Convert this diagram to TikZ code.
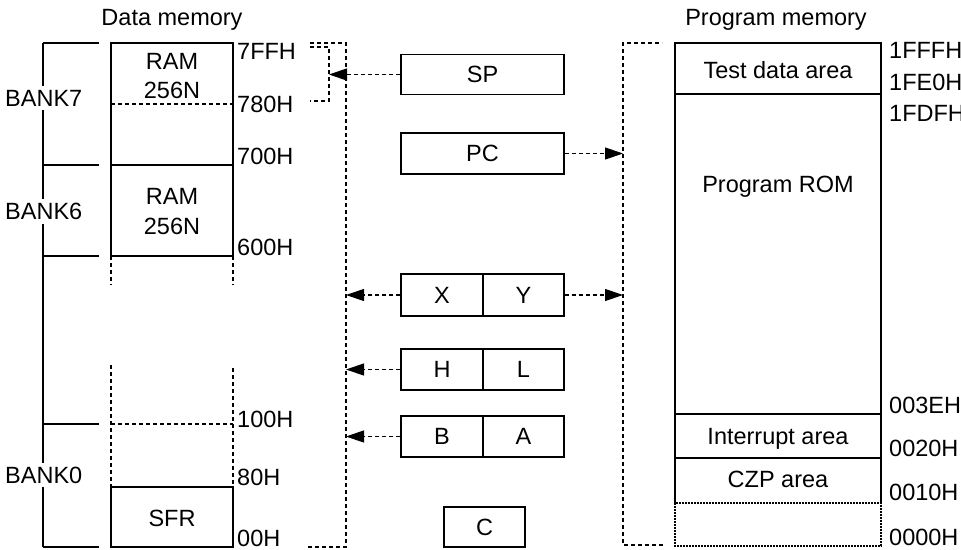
\documentclass[tikz,border=0pt]{standalone}
\usepackage{fontspec}
\setmainfont{Liberation Sans}
\usetikzlibrary{arrows.meta}
\begin{document}
\begin{tikzpicture}[x=1pt,y=-1pt,
  every node/.style={font=\fontsize{23.5}{27}\selectfont, inner sep=0pt},
  solidln/.style={line width=1.2pt},
  dashln/.style={line width=1.2pt, dash pattern=on 4pt off 3pt},
  finedash/.style={line width=1.2pt, dash pattern=on 2pt off 1pt},
  regbox/.style={draw, line width=1.2pt, minimum height=41pt, minimum width=81.5pt},
  arr/.style={dashln, -{Triangle[length=18pt,width=12pt]}},
  lbl/.style={anchor=base west},
  ctr/.style={anchor=base},
  banklbl/.style={anchor=base west, fill=white, inner ysep=4pt},
]
\useasboundingbox (0,0) rectangle (961,549);

% titles
\node[ctr] (dmtitle) at (172,25) {Data memory};
\node[ctr] (pmtitle) at (776,25) {Program memory};

% bank bracket
\draw[solidln] (43,43) -- (43,547);
\foreach \yy in {43,165,256,424,547} \draw[solidln] (43,\yy) -- (99,\yy);
\node[banklbl] (bank7) at (5,106) {BANK7};
\node[banklbl] (bank6) at (5,219.5) {BANK6};
\node[banklbl] (bank0) at (5,483) {BANK0};

% data memory column
\draw[solidln] (111,43) rectangle (233,165);
\draw[solidln] (111,165) rectangle (233,256);
\draw[dashln] (111,104) -- (233,104);
\draw[dashln] (111,256) -- (111,285);
\draw[dashln] (233,256) -- (233,285);
\draw[dashln] (111,365) -- (111,487);
\draw[dashln] (233,368) -- (233,487);
\draw[dashln] (111,424) -- (233,424);
\draw[solidln] (111,487) rectangle (233,547);
\node[ctr] (ram7a) at (172,69) {RAM};
\node[ctr] (ram7b) at (172,98) {256N};
\node[ctr] (ram6a) at (172,204) {RAM};
\node[ctr] (ram6b) at (172,234) {256N};
\node[ctr] (sfr) at (172,526) {SFR};

% data addresses
\node[lbl] (a7ff) at (237,59) {7FFH};
\node[lbl] (a780) at (237,112) {780H};
\node[lbl] (a700) at (237,164) {700H};
\node[lbl] (a600) at (237,255) {600H};
\node[lbl] (a100) at (237,427) {100H};
\node[lbl] (a80) at (237,485) {80H};
\node[lbl] (a00) at (237,546) {00H};

% brackets
\draw[dashln] (308,547) -- (346,547) -- (346,43) -- (310,43);
\draw[dashln] (310,47) -- (329,47) -- (329,101) -- (310,101);
\draw[dashln] (663,545) -- (623,545) -- (623,43) -- (662,43);
\coordinate (dmbus) at (346,300);
\coordinate (pmbus) at (623,300);
\coordinate (spbr) at (329,75);

% registers
\node[regbox, minimum width=163pt, minimum height=40pt] (sp) at (482.5,74.5) {SP};
\node[regbox, minimum width=163pt] (pc) at (482.5,153.5) {PC};
\node[regbox, minimum width=82pt, minimum height=42pt] (rx) at (442,295) {X};
\node[regbox, minimum width=81pt, minimum height=42pt] (ry) at (523.5,295) {Y};
\node[regbox, minimum width=82pt] (rh) at (442,369.5) {H};
\node[regbox, minimum width=81pt] (rl) at (523.5,369.5) {L};
\node[regbox, minimum width=82pt] (rb) at (442,436.5) {B};
\node[regbox, minimum width=81pt] (ra) at (523.5,436.5) {A};
\node[regbox, minimum width=81pt, minimum height=40pt] (rc) at (484.5,527) {C};

% arrows
\draw[arr] (sp.west) -- (sp.west -| spbr);
\draw[arr] (pc.east) -- (pc.east -| pmbus);
\draw[arr] (rx.west) -- (rx.west -| dmbus);
\draw[arr] (ry.east) -- (ry.east -| pmbus);
\draw[arr] (rh.west) -- (rh.west -| dmbus);
\draw[arr] (rb.west) -- (rb.west -| dmbus);

% program memory
\draw[solidln] (675,503) -- (675,43) -- (881,43) -- (881,503);
\foreach \yy in {94,414,458} \draw[solidln] (675,\yy) -- (881,\yy);
\draw[finedash] (675,503) rectangle (881,546);
\node[ctr] (testarea) at (778,78) {Test data area};
\node[ctr] (prom) at (778,192) {Program ROM};
\node[ctr] (intarea) at (778,444) {Interrupt area};
\node[ctr] (czp) at (778,487) {CZP area};

% program addresses
\node[lbl] (p1fff) at (889,58) {1FFFH};
\node[lbl] (p1fe0) at (889,90) {1FE0H};
\node[lbl] (p1fdf) at (889,121) {1FDFH};
\node[lbl] (p003e) at (889,413) {003EH};
\node[lbl] (p0020) at (889,456) {0020H};
\node[lbl] (p0010) at (889,500) {0010H};
\node[lbl] (p0000) at (889,545) {0000H};
\end{tikzpicture}
\end{document}
